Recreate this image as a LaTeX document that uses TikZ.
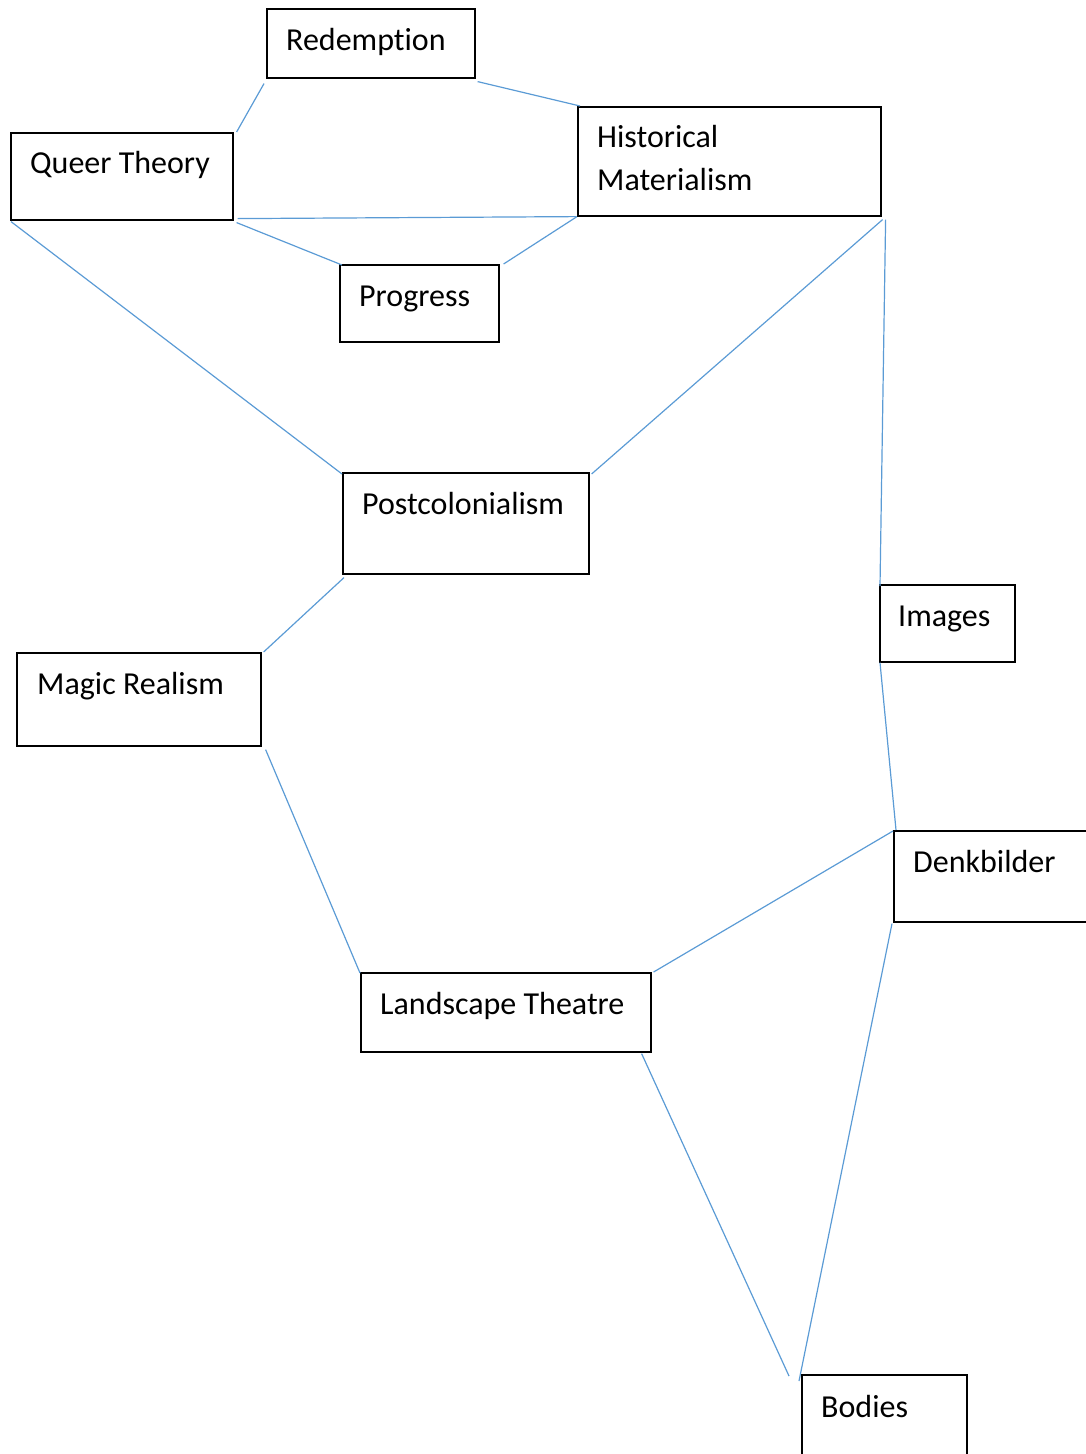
\documentclass[tikz,border=0pt]{standalone}
\usepackage{fontspec}
\setmainfont[Ligatures=CommonOff]{Carlito}
\tikzset{
  box/.style={draw=black,line width=1.6pt,rectangle,inner sep=0pt,anchor=north west},
  lbl/.style={inner sep=0pt,anchor=base west,align=left,font=\fontsize{32}{43}\selectfont},
  conn/.style={draw={rgb,255:red,91;green,155;blue,213},line width=1.2pt}
}
\begin{document}
\begin{tikzpicture}[x=1pt,y=-1pt]
  \useasboundingbox (0,0) rectangle (1085,1454);
  \node[box,minimum width=208,minimum height=69] (red) at (266,8) {};
  \node[box,minimum width=222,minimum height=87] (qt) at (10,132) {};
  \node[box,minimum width=303,minimum height=109] (hm) at (577,106) {};
  \node[box,minimum width=159,minimum height=77] (prog) at (339,264) {};
  \node[box,minimum width=246,minimum height=101] (post) at (342,472) {};
  \node[box,minimum width=135,minimum height=77] (img) at (879,584) {};
  \node[box,minimum width=244,minimum height=93] (mr) at (16,652) {};
  \node[box,minimum width=220,minimum height=91] (denk) at (893,830) {};
  \node[box,minimum width=290,minimum height=79] (lt) at (360,972) {};
  \node[box,minimum width=165,minimum height=100] (bod) at (801,1374) {};
  \node[lbl] (red-t) at ([shift={(20,42)}]red.north west) {Redemption};
  \node[lbl] (qt-t) at ([shift={(20,41)}]qt.north west) {Queer Theory};
  \node[lbl] (hm-t) at ([shift={(20,84)}]hm.north west) {Historical\\Materialism};
  \node[lbl] (prog-t) at ([shift={(20,42)}]prog.north west) {Progress};
  \node[lbl] (post-t) at ([shift={(20,42)}]post.north west) {Postcolonialism};
  \node[lbl] (img-t) at ([shift={(19,42)}]img.north west) {Images};
  \node[lbl] (mr-t) at ([shift={(21,42)}]mr.north west) {Magic Realism};
  \node[lbl] (denk-t) at ([shift={(20,42)}]denk.north west) {Denkbilder};
  \node[lbl] (lt-t) at ([shift={(20,42)}]lt.north west) {Landscape Theatre};
  \node[lbl] (bod-t) at ([shift={(20,43)}]bod.north west) {Bodies};
  \draw[conn] ([shift={(-2,5)}]red.south west) -- ([shift={(3,0)}]qt.north east);
  \draw[conn] ([shift={(2,3)}]red.south east) -- ([shift={(3,0)}]hm.north west);
  \draw[conn] ([shift={(4,-2)}]qt.south east) -- ([shift={(-1,0)}]hm.south west);
  \draw[conn] ([shift={(3,2)}]qt.south east) -- ([shift={(3,1)}]prog.north west);
  \draw[conn] ([shift={(4,0)}]prog.north east) -- (hm.south west);
  \draw[conn] ([shift={(1,1)}]qt.south west) -- ([shift={(0,2)}]post.north west);
  \draw[conn] ([shift={(2,2)}]post.north east) -- ([shift={(1,3)}]hm.south east);
  \draw[conn] ([shift={(4,3)}]hm.south east) -- ([shift={(1,2)}]img.north west);
  \draw[conn] ([shift={(2,3)}]post.south west) -- ([shift={(2,0)}]mr.north east);
  \draw[conn] ([shift={(4,3)}]mr.south east) -- ([shift={(0,1)}]lt.north west);
  \draw[conn] ([shift={(1,0)}]img.south west) -- ([shift={(3,0)}]denk.north west);
  \draw[conn] ([shift={(0,1)}]denk.north west) -- ([shift={(2,0)}]lt.north east);
  \draw[conn] ([shift={(-10,1)}]lt.south east) -- ([shift={(-12,2)}]bod.north west);
  \draw[conn] ([shift={(-1,1)}]denk.south west) -- ([shift={(-2,7)}]bod.north west);
\end{tikzpicture}
\end{document}
